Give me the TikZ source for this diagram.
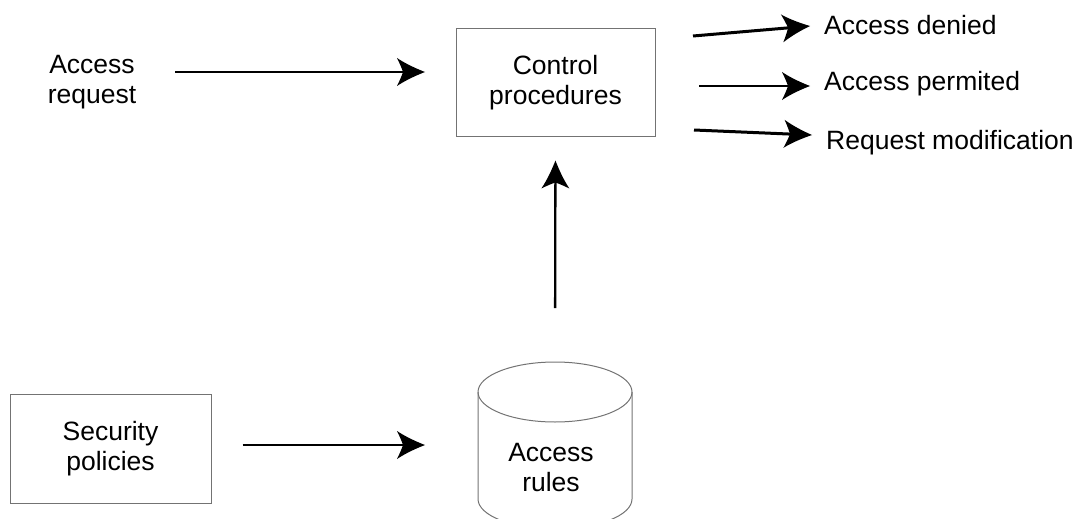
\documentclass[tikz,border=0pt]{standalone}
\usepackage{fontspec}
\setmainfont{Liberation Sans}
\usetikzlibrary{arrows.meta}
\pgfdeclarearrow{
  name = ConcaveHead,
  setup code = {
    \pgfarrowssettipend{0pt}
    \pgfarrowssetbackend{-28pt}
    \pgfarrowssetlineend{-20pt}
    \pgfarrowshullpoint{0pt}{0pt}
    \pgfarrowshullpoint{-28pt}{14pt}
    \pgfarrowshullpoint{-28pt}{-14pt}
  },
  drawing code = {
    \pgfpathmoveto{\pgfqpoint{0pt}{0pt}}
    \pgfpathcurveto{\pgfqpoint{-9pt}{3.5pt}}{\pgfqpoint{-19pt}{8pt}}{\pgfqpoint{-28pt}{14pt}}
    \pgfpathcurveto{\pgfqpoint{-25pt}{8pt}}{\pgfqpoint{-23pt}{3pt}}{\pgfqpoint{-22pt}{0pt}}
    \pgfpathcurveto{\pgfqpoint{-23pt}{-3pt}}{\pgfqpoint{-25pt}{-8pt}}{\pgfqpoint{-28pt}{-14pt}}
    \pgfpathcurveto{\pgfqpoint{-19pt}{-8pt}}{\pgfqpoint{-9pt}{-3.5pt}}{\pgfqpoint{0pt}{0pt}}
    \pgfpathclose
    \pgfusepathqfill
  },
  defaults = {}
}
\begin{document}
\begin{tikzpicture}[x=1pt,y=-1pt,
  lbl/.style={font=\fontsize{26.5}{30}\selectfont, inner sep=0pt, align=center},
  boxnode/.style={lbl, draw=black!55, line width=1pt},
  arr/.style={-{ConcaveHead}, line width=2.3pt},
  thickarr/.style={arr, line width=3pt},
  cyl/.style={draw=black!55, line width=1pt}]
\useasboundingbox (0,0) rectangle (1082,519);

% nodes
\node[lbl] (req) at (92,82.5) {Access\\request};
\node[boxnode, minimum width=199pt, minimum height=107pt] (ctrl) at (555.5,82.5) {Control\\procedures};
\node[boxnode, minimum width=201pt, minimum height=109pt] (sec) at (110.5,448.5) {Security\\policies};
\node[lbl, anchor=base west] (denied) at (824,35) {Access denied};
\node[lbl, anchor=base west] (permited) at (824,91) {Access permited};
\node[lbl, anchor=base west] (reqmod) at (826,149) {Request modification};

% cylinder (Access rules)
\coordinate (cyltop) at (555,362);
\coordinate (cylW) at (478,445);
\draw[cyl] (555,392) ellipse [x radius=77, y radius=30];
\draw[cyl] (478,392) -- (478,499) arc[start angle=180, end angle=0, x radius=77, y radius=30] -- (632,392);
\node[lbl] (rules) at (551,468) {Access\\rules};

% connector coordinates
\coordinate (reqout) at (175,72);
\coordinate (ctrlin) at (456,72);
\coordinate (d0) at (693,36);
\coordinate (d1) at (810,26);
\coordinate (p0) at (699,86);
\coordinate (p1) at (810,86);
\coordinate (m0) at (694,130);
\coordinate (m1) at (812,135);

% connectors
\draw[arr, shorten >=31pt] (reqout) -- (ctrlin);
\draw[arr, shorten <=31pt, shorten >=53pt] ([yshift=3.5pt]sec.east) -- (cylW);
\draw[arr, shorten <=54pt, shorten >=24pt] (cyltop) -- (ctrl.south);
\draw[thickarr] (d0) -- (d1);
\draw[arr] (p0) -- (p1);
\draw[thickarr] (m0) -- (m1);
\end{tikzpicture}
\end{document}
